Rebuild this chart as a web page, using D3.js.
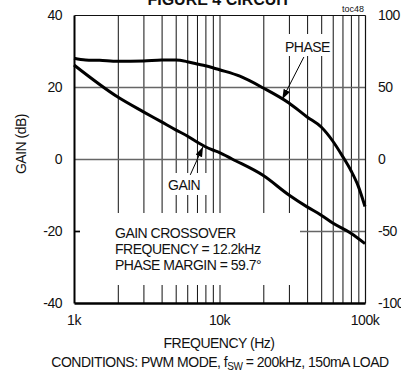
<!DOCTYPE html>
<html>
<head>
<meta charset="utf-8">
<script src="https://cdn.jsdelivr.net/npm/d3@7"></script>
<style>
  body { margin: 0; background: #fff; }
  svg { display: block; font-family: "Liberation Sans", Arial, sans-serif; }
</style>
</head>
<body>
<script>
// gain curve (left axis, dB)
var gainFreq = [1000, 2000, 3000, 4000, 5000, 6000, 7000, 8000, 9000, 10000, 12200, 20000, 30000, 40000, 50000, 60000, 80000, 100000];
var gainDb = [26.1, 17.2, 13.1, 10.3, 8.1, 6.4, 4.7, 3.4, 2.5, 1.8, 0, -4.6, -10, -13.3, -15.6, -17.8, -20.6, -23.5];

// phase curve (right axis, degrees)
var phaseFreq = [1000, 1200, 1500, 2000, 3000, 4000, 5000, 6000, 7000, 8000, 9000, 10000, 13800, 20000, 30000, 40000, 50000, 60000, 70000, 80000, 90000, 100000];
var phaseDeg = [70, 68.8, 68.5, 67.8, 68, 68.7, 68.7, 67.6, 66, 64.8, 63.4, 62, 57.5, 49.3, 38.9, 29.2, 22.2, 12.5, 2, -8, -19, -33];

var gainTicks = [40, 20, 0, -20, -40];
var phaseTicks = [100, 50, 0, -50, -100];
var freqTicks = [1000, 10000, 100000];
var freqTickLabels = ["1k", "10k", "100k"];
var minorFreq = [2000, 3000, 4000, 5000, 6000, 7000, 8000, 9000, 10000,
                 20000, 30000, 40000, 50000, 60000, 70000, 80000, 90000];

var width = 401, height = 373;
var pad = { left: 74, right: 36, up: 15, down: 70 };
var plotW = width - pad.left - pad.right, plotH = height - pad.up - pad.down;

var svg = d3.select("body").append("svg")
    .attr("width", width).attr("height", height);

var xscale = d3.scaleLog().domain([1000, 100000]).range([pad.left, width - pad.right]);
var yscale = d3.scaleLinear().domain([-40, 40]).range([height - pad.down, pad.up]);
var pscale = d3.scaleLinear().domain([-100, 100]).range([height - pad.down, pad.up]);

// vertical gridlines (axis with long ticks)
var vgrid = svg.append("g").attr("class", "vgrid")
    .attr("transform", "translate(0," + (height - pad.down) + ")")
    .call(d3.axisBottom(xscale).tickValues(minorFreq).tickSize(-plotH).tickFormat(""));
vgrid.select(".domain").remove();
vgrid.selectAll("line").attr("stroke", "#111").attr("stroke-width", 1);

// horizontal gridlines
var hgrid = svg.append("g").attr("class", "hgrid")
    .attr("transform", "translate(" + pad.left + ",0)")
    .call(d3.axisLeft(yscale).tickValues([20, 0, -20]).tickSize(-plotW).tickFormat(""));
hgrid.select(".domain").remove();
hgrid.selectAll("line").attr("stroke", "#666").attr("stroke-width", 1.5);

// white boxes behind labels (they cut the grid)
var boxes = [
  { x: 280, y: 34, w: 48, h: 22 },
  { x: 166, y: 173, w: 41, h: 22 },
  { x: 80, y: 213, w: 220, h: 72 }
];
svg.append("g").selectAll("rect").data(boxes).join("rect")
    .attr("x", function(d) { return d.x; })
    .attr("y", function(d) { return d.y; })
    .attr("width", function(d) { return d.w; })
    .attr("height", function(d) { return d.h; })
    .attr("fill", "#fff");

// frame: top and right thin, left and bottom heavy
var topAx = svg.append("g")
    .attr("transform", "translate(0," + pad.up + ")")
    .call(d3.axisTop(xscale).tickValues([]).tickSizeOuter(0));
topAx.select(".domain").attr("stroke", "#111").attr("stroke-width", 1.2);
var rightAx = svg.append("g")
    .attr("transform", "translate(" + (width - pad.right) + ",0)")
    .call(d3.axisRight(pscale).tickValues([]).tickSizeOuter(0));
rightAx.select(".domain").attr("stroke", "#111").attr("stroke-width", 1.2);
var leftAx = svg.append("g")
    .attr("transform", "translate(" + pad.left + ",0)")
    .call(d3.axisLeft(yscale).tickValues([-20]).tickSize(-6).tickSizeOuter(0).tickFormat(""));
leftAx.select(".domain").attr("stroke", "#000").attr("stroke-width", 2);
leftAx.selectAll("line").attr("stroke", "#000").attr("stroke-width", 1.5);
var bottomAx = svg.append("g")
    .attr("transform", "translate(0," + (height - pad.down) + ")")
    .call(d3.axisBottom(xscale).tickValues([]).tickSizeOuter(0));
bottomAx.select(".domain").attr("stroke", "#000").attr("stroke-width", 2.4);

// curves
var gainLine = d3.line()
    .x(function(d) { return xscale(d[0]); })
    .y(function(d) { return yscale(d[1]); })
    .curve(d3.curveMonotoneX);
var phaseLine = d3.line()
    .x(function(d) { return xscale(d[0]); })
    .y(function(d) { return pscale(d[1]); })
    .curve(d3.curveMonotoneX);

svg.append("path").datum(d3.zip(gainFreq, gainDb))
    .attr("d", gainLine).attr("fill", "none")
    .attr("stroke", "#000").attr("stroke-width", 3);
svg.append("path").datum(d3.zip(phaseFreq, phaseDeg))
    .attr("d", phaseLine).attr("fill", "none")
    .attr("stroke", "#000").attr("stroke-width", 3);

// arrows
svg.append("defs").append("marker")
    .attr("id", "head").attr("viewBox", "0 0 10 10")
    .attr("refX", 10).attr("refY", 5)
    .attr("markerWidth", 10).attr("markerHeight", 10)
    .attr("markerUnits", "userSpaceOnUse")
    .attr("orient", "auto")
    .append("path").attr("d", "M0,1.5 L10,5 L0,8.5 Z").attr("fill", "#000");

var arrows = [
  { f0: 38000, v0: 70.8, f1: 27000, v1: 41.5, s: pscale },
  { f0: 6300, v0: -4.4, f1: 7700, v1: 3.4, s: yscale }
];
svg.append("g").selectAll("path").data(arrows).join("path")
    .attr("d", function(d) {
      return d3.line()([[xscale(d.f0), d.s(d.v0)], [xscale(d.f1), d.s(d.v1)]]);
    })
    .attr("fill", "none").attr("stroke", "#000").attr("stroke-width", 1)
    .attr("marker-end", "url(#head)");

// text
var txt = function(x, y, s, size, anchor) {
  return svg.append("text").attr("x", x).attr("y", y)
      .attr("font-size", size).attr("text-anchor", anchor || "start")
      .attr("letter-spacing", "-0.5px").attr("fill", "#111").text(s);
};

svg.append("text").attr("x", 219).attr("y", 5)
    .attr("font-size", 16).attr("font-weight", "bold")
    .attr("text-anchor", "middle").attr("fill", "#111")
    .text("FIGURE 4 CIRCUIT");
svg.append("text").attr("x", width - pad.right - 1).attr("y", 12)
    .attr("font-size", 9).attr("text-anchor", "end").attr("fill", "#111")
    .text("toc48");

svg.append("g").selectAll("text").data(gainTicks).join("text")
    .attr("x", 62).attr("y", function(d) { return yscale(d) + 5; })
    .attr("text-anchor", "end").attr("font-size", 14).attr("letter-spacing", "-0.5px")
    .attr("fill", "#111").text(function(d) { return d; });

svg.append("g").selectAll("text").data(phaseTicks).join("text")
    .attr("x", 378).attr("y", function(d) { return pscale(d) + 5; })
    .attr("text-anchor", "start").attr("font-size", 14).attr("letter-spacing", "-0.5px")
    .attr("fill", "#111").text(function(d) { return d; });

svg.append("g").selectAll("text").data(freqTicks).join("text")
    .attr("x", function(d) { return xscale(d); }).attr("y", 325)
    .attr("text-anchor", "middle").attr("font-size", 14).attr("letter-spacing", "-0.5px")
    .attr("fill", "#111").text(function(d, i) { return freqTickLabels[i]; });

txt(219, 348, "FREQUENCY (Hz)", 14, "middle");

var cond = svg.append("text").attr("x", 220).attr("y", 367)
    .attr("font-size", 14).attr("text-anchor", "middle")
    .attr("letter-spacing", "-0.5px").attr("fill", "#111");
cond.append("tspan").text("CONDITIONS: PWM MODE, f");
cond.append("tspan").attr("font-size", 10).attr("dy", 3).text("SW");
cond.append("tspan").attr("dy", -3).text(" = 200kHz, 150mA LOAD");

svg.append("text")
    .attr("transform", "translate(26,144) rotate(-90)")
    .attr("text-anchor", "middle").attr("font-size", 14)
    .attr("letter-spacing", "-0.5px").attr("fill", "#111")
    .text("GAIN (dB)");

txt(285, 52, "PHASE", 14);
txt(168, 190, "GAIN", 14);
txt(115, 238, "GAIN CROSSOVER", 14);
txt(115, 254, "FREQUENCY = 12.2kHz", 14);
txt(115, 270, "PHASE MARGIN = 59.7\u00b0", 14);
</script>
</body>
</html>
